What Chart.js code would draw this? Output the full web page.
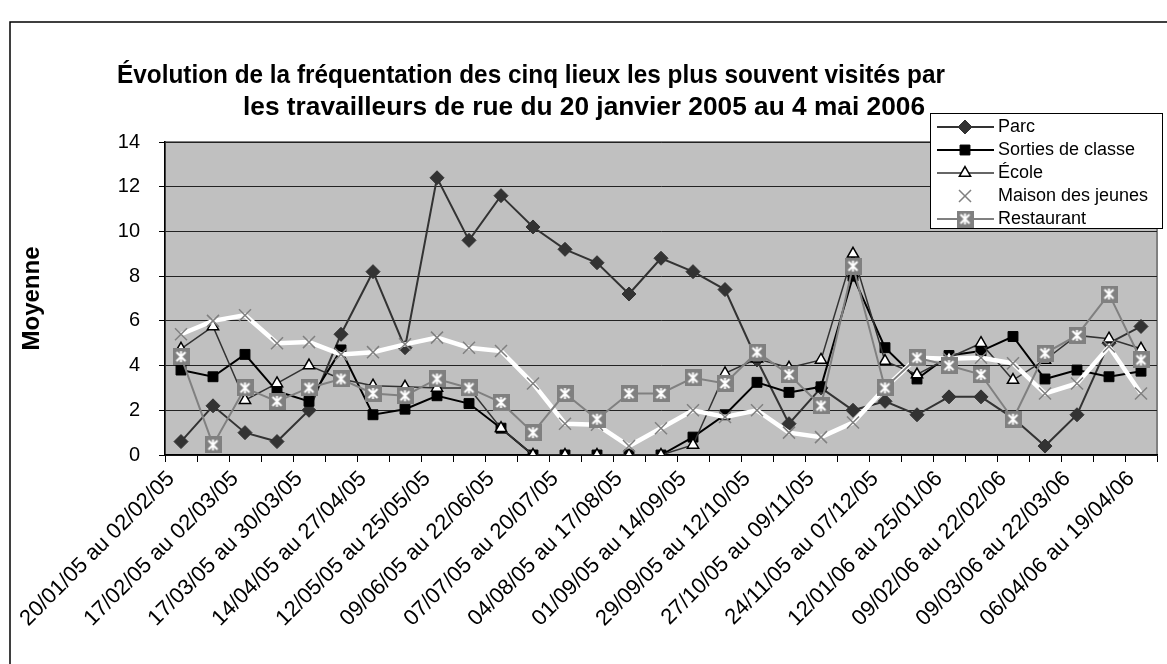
<!DOCTYPE html>
<html><head><meta charset="utf-8">
<script src="https://cdn.jsdelivr.net/npm/chart.js@4.4.1/dist/chart.umd.min.js"></script>
<style>html,body{margin:0;padding:0;background:#fff;}#wrap{width:1167px;height:664px;position:relative;}</style>
</head><body><div id="wrap"><canvas id="c" width="1167" height="664"></canvas></div>
<script>
const titleLines = ["Évolution de la fréquentation des cinq lieux les plus souvent visités par",
                    "les travailleurs de rue du 20 janvier 2005 au 4 mai 2006"];
const yTitle = "Moyenne";
const categories = [
 "20/01/05 au 02/02/05","03/02/05 au 16/02/05","17/02/05 au 02/03/05","03/03/05 au 16/03/05",
 "17/03/05 au 30/03/05","31/03/05 au 13/04/05","14/04/05 au 27/04/05","28/04/05 au 11/05/05",
 "12/05/05 au 25/05/05","26/05/05 au 08/06/05","09/06/05 au 22/06/05","23/06/05 au 06/07/05",
 "07/07/05 au 20/07/05","21/07/05 au 03/08/05","04/08/05 au 17/08/05","18/08/05 au 31/08/05",
 "01/09/05 au 14/09/05","15/09/05 au 28/09/05","29/09/05 au 12/10/05","13/10/05 au 26/10/05",
 "27/10/05 au 09/11/05","10/11/05 au 23/11/05","24/11/05 au 07/12/05","08/12/05 au 11/01/06",
 "12/01/06 au 25/01/06","26/01/06 au 08/02/06","09/02/06 au 22/02/06","23/02/06 au 08/03/06",
 "09/03/06 au 22/03/06","23/03/06 au 05/04/06","06/04/06 au 19/04/06"];
const seriesNames = ["Parc","Sorties de classe","École","Maison des jeunes","Restaurant"];
const parc       = [0.6,2.2,1.0,0.6,2.0,5.4,8.2,4.8,12.4,9.6,11.6,10.2,9.2,8.6,7.2,8.8,8.2,7.4,4.25,1.4,3.0,2.0,2.4,1.8,2.6,2.6,1.65,0.4,1.8,5.0,5.75];
const sorties    = [3.8,3.5,4.5,2.85,2.4,4.7,1.8,2.05,2.65,2.3,1.2,0,0,0,0,0,0.8,1.8,3.25,2.8,3.05,8.0,4.8,3.4,4.45,4.65,5.3,3.4,3.8,3.5,3.75];
const ecole      = [4.75,5.75,2.45,3.2,4.0,3.4,3.1,3.05,3.0,3.0,1.2,0,0,0,0,0,0.45,3.65,4.3,3.9,4.25,9.0,4.2,3.6,4.35,5.0,3.35,4.25,5.35,5.2,4.75];
const maison     = [5.4,6.0,6.25,5.0,5.05,4.5,4.6,4.95,5.25,4.8,4.65,3.2,1.4,1.35,0.4,1.2,2.0,1.7,2.0,1.0,0.8,1.45,3.0,4.35,4.3,4.35,4.1,2.75,3.2,4.85,2.75];
const restaurant = [4.4,0.45,3.0,2.4,3.0,3.4,2.75,2.65,3.4,3.0,2.35,1.0,2.75,1.6,2.75,2.75,3.45,3.2,4.6,3.6,2.2,8.45,3.0,4.35,4.0,3.6,1.6,4.55,5.35,7.2,4.25];
const yMin = 0, yMax = 14, yStep = 2;

const FONT = "'Liberation Sans', Arial, sans-serif";
Chart.defaults.font.family = FONT;
Chart.defaults.color = '#000';

function makeResto(size){
  const c = document.createElement('canvas'); c.width = size; c.height = size;
  const g = c.getContext('2d');
  g.fillStyle = '#808080'; g.fillRect(0,0,size,size);
  g.strokeStyle = '#fff'; g.lineWidth = 2; g.lineCap = 'butt';
  const m = 3;
  g.beginPath();
  g.moveTo(size/2, m); g.lineTo(size/2, size-m);
  g.moveTo(m+1, m+1); g.lineTo(size-m-1, size-m-1);
  g.moveTo(size-m-1, m+1); g.lineTo(m+1, size-m-1);
  g.stroke();
  return c;
}
const restoImg = makeResto(17);

const styles = [
  {borderColor:'#333333', borderWidth:2, pointStyle:'rectRot', pointRadius:7, pointBackgroundColor:'#333333', pointBorderColor:'#333333', pointBorderWidth:1},
  {borderColor:'#000000', borderWidth:2, pointStyle:'rect', pointRadius:7, pointBackgroundColor:'#000000', pointBorderColor:'#000000', pointBorderWidth:1},
  {borderColor:'#333333', borderWidth:1.5, pointStyle:'triangle', pointRadius:6.5, pointBackgroundColor:'#ffffff', pointBorderColor:'#000000', pointBorderWidth:1.5},
  {borderColor:'#ffffff', borderWidth:4.5, pointStyle:'crossRot', pointRadius:8.5, pointBackgroundColor:'#808080', pointBorderColor:'#808080', pointBorderWidth:1.5},
  {borderColor:'#808080', borderWidth:2, pointStyle:restoImg, pointRadius:8, pointBackgroundColor:'#808080', pointBorderColor:'#808080', pointBorderWidth:1}
];
const values = [parc, sorties, ecole, maison, restaurant];
const datasets = seriesNames.map((n,i)=>Object.assign({label:n, data:values[i], tension:0, fill:false, order:5-i}, styles[i]));

function fitText(ctx, text, cx, cy, targetW){
  const w = ctx.measureText(text).width;
  const s = targetW / w;
  ctx.save();
  ctx.translate(cx, cy); ctx.scale(s, 1);
  ctx.fillText(text, 0, 0);
  ctx.restore();
}

const bgPlugin = {
  id:'bg',
  beforeDraw(chart){
    const {ctx, chartArea:a} = chart;
    ctx.save();
    ctx.fillStyle = '#C0C0C0';
    ctx.fillRect(a.left, a.top, a.right-a.left, a.bottom-a.top);
    ctx.strokeStyle = '#808080'; ctx.lineWidth = 2;
    ctx.strokeRect(a.left, a.top, a.right-a.left, a.bottom-a.top);
    ctx.strokeStyle = '#000'; ctx.lineWidth = 1.5;
    ctx.strokeRect(10, 22, 1300, 800);
    ctx.restore();
  },
  afterDraw(chart){
    const ctx = chart.ctx;
    ctx.save();
    ctx.fillStyle = '#000';
    ctx.font = "bold 25px " + FONT;
    ctx.textAlign = 'center'; ctx.textBaseline = 'middle';
    fitText(ctx, titleLines[0], 531, 76, 828);
    fitText(ctx, titleLines[1], 584, 108, 682);
    // legend
    const lx = 930, ly = 113, lw = 232, lh = 115;
    ctx.fillStyle = '#fff'; ctx.fillRect(lx, ly, lw, lh);
    ctx.strokeStyle = '#000'; ctx.lineWidth = 1;
    ctx.strokeRect(lx+0.5, ly+0.5, lw, lh);
    chart.data.datasets.forEach((ds,i)=>{
      const y = ly + 14 + i*23;
      ctx.strokeStyle = ds.borderColor; ctx.lineWidth = Math.min(ds.borderWidth, 2);
      ctx.beginPath(); ctx.moveTo(937, y); ctx.lineTo(994, y); ctx.stroke();
      ctx.save();
      ctx.fillStyle = ds.pointBackgroundColor; ctx.strokeStyle = ds.pointBorderColor; ctx.lineWidth = ds.pointBorderWidth;
      Chart.helpers.drawPoint(ctx, {pointStyle: ds.pointStyle, radius: ds.pointRadius, borderWidth: ds.pointBorderWidth, rotation:0}, 965, y);
      ctx.restore();
      ctx.fillStyle = '#000'; ctx.font = "18px " + FONT;
      ctx.textAlign = 'left'; ctx.textBaseline = 'middle';
      ctx.fillText(ds.label, 998, y);
    });
    ctx.restore();
  }
};

new Chart(document.getElementById('c'), {
  type:'line',
  data:{labels:categories, datasets},
  options:{
    responsive:false, animation:false, devicePixelRatio:1,
    layout:{padding:{top:142, right:10, bottom:0, left:0}},
    plugins:{legend:{display:false}, title:{display:false}, tooltip:{enabled:false}},
    scales:{
      x:{
        offset:true,
        grid:{offset:true, drawOnChartArea:false, drawTicks:true, tickLength:7, color:'#000', tickColor:'#000'},
        border:{color:'#000', width:1.5},
        ticks:{autoSkip:false, maxRotation:45, minRotation:45, padding:4, labelOffset:-10, font:{size:22}, color:'#000',
          callback:(v,i)=> i%2===0 ? categories[i] : ''},
        afterFit:(s)=>{ s.height = 209; }
      },
      y:{
        min:yMin, max:yMax,
        grid:{color:'#222', lineWidth:1, tickLength:6, tickColor:'#000'},
        border:{color:'#000', width:1.5},
        ticks:{stepSize:yStep, font:{size:20}, color:'#000', padding:19},
        title:{display:true, text:yTitle, font:{size:24, weight:'bold'}, color:'#000', padding:{top:18, bottom:0}},
        afterFit:(s)=>{ s.width = 165; }
      }
    }
  },
  plugins:[bgPlugin]
});
</script></body></html>
